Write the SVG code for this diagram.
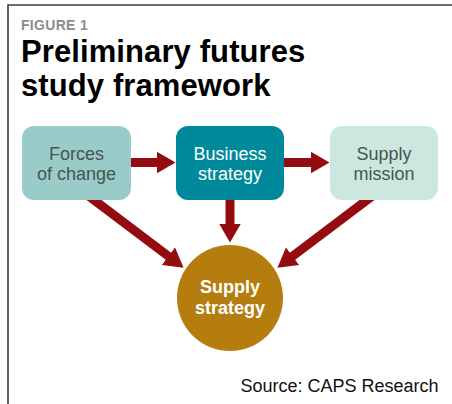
<svg xmlns="http://www.w3.org/2000/svg" width="452" height="404" viewBox="0 0 452 404">
  <style>
    .frame { fill: none; stroke: #3a3a3a; stroke-width: 1.6; }
    .kicker { font-family: "Liberation Sans", Arial, sans-serif; font-weight: bold; font-size: 14px; fill: #8c8c8c; letter-spacing: 0.3px; }
    .title { font-family: "Liberation Sans", Arial, sans-serif; font-weight: bold; font-size: 31px; fill: #000; letter-spacing: 0.1px; }
    .lbl { font-family: "Liberation Sans", Arial, sans-serif; font-size: 18px; text-anchor: middle; }
    .dark { fill: #46554f; }
    .light { fill: #ffffff; }
    .bold { font-weight: bold; }
    .link { fill: none; stroke: #940b10; stroke-width: 9; marker-end: url(#head); }
    .source { font-family: "Liberation Sans", Arial, sans-serif; font-size: 18px; fill: #111; text-anchor: end; }
  </style>
  <defs>
    <marker id="head" markerUnits="userSpaceOnUse" markerWidth="20" markerHeight="22" refX="0.5" refY="11" orient="auto">
      <path d="M0,0 L19,11 L0,22 Z" fill="#940b10"/>
    </marker>
  </defs>

  <rect width="452" height="404" fill="#ffffff"/>
  <path class="frame" d="M452,5 H8 V404"/>

  <text class="kicker" x="21" y="29.5">FIGURE 1</text>
  <text class="title" x="21" y="62">Preliminary futures</text>
  <text class="title" x="21" y="96">study framework</text>

  <g id="connectors">
    <line class="link" x1="128" y1="162.5" x2="157" y2="162.5"/>
    <line class="link" x1="281" y1="162.5" x2="311" y2="162.5"/>
    <line class="link" x1="230" y1="196" x2="230" y2="224"/>
    <line class="link" x1="89.2" y1="196.4" x2="168.8" y2="256.5"/>
    <line class="link" x1="371.8" y1="196.4" x2="292.2" y2="256.5"/>
  </g>

  <g id="forces">
    <rect x="22" y="126" width="109" height="74" rx="12" fill="#99ccc9"/>
    <text class="lbl dark" x="76.5" y="159.5">Forces</text>
    <text class="lbl dark" x="76.5" y="180">of change</text>
  </g>

  <g id="business">
    <rect x="176" y="126" width="108" height="74" rx="12" fill="#00899b"/>
    <text class="lbl light" x="230" y="159.5">Business</text>
    <text class="lbl light" x="230" y="180">strategy</text>
  </g>

  <g id="mission">
    <rect x="330" y="126" width="108" height="74" rx="12" fill="#cce7e0"/>
    <text class="lbl dark" x="384" y="159.5">Supply</text>
    <text class="lbl dark" x="384" y="180">mission</text>
  </g>

  <g id="supply-strategy">
    <circle cx="230" cy="298" r="53" fill="#b57d0e"/>
    <text class="lbl light bold" x="230" y="293">Supply</text>
    <text class="lbl light bold" x="230" y="314">strategy</text>
  </g>

  <text class="source" x="438.5" y="391.5">Source: CAPS Research</text>
</svg>
